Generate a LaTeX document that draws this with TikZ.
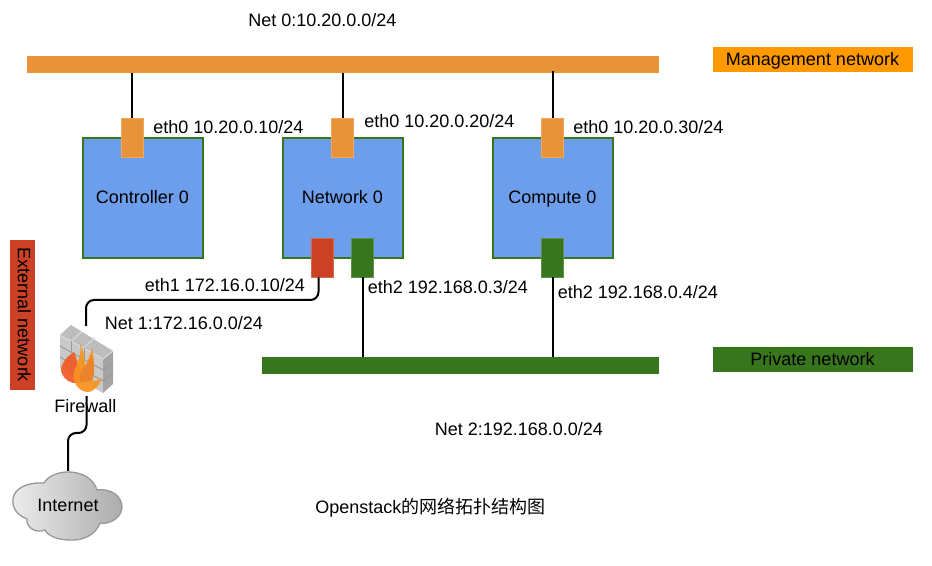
\documentclass[tikz,border=0pt]{standalone}
\usepackage{fontspec}
\setmainfont{Liberation Sans}
\newfontfamily\cjk{Noto Sans CJK SC}
\definecolor{orangeb}{HTML}{E8923A}
\definecolor{orangel}{HTML}{FF9900}
\definecolor{greenb}{HTML}{38761D}
\definecolor{redb}{HTML}{CC4125}
\definecolor{blueb}{HTML}{6D9EEB}
\definecolor{brickf}{HTML}{C9C9C9}
\definecolor{bricks}{HTML}{A3A3A3}
\definecolor{brickt}{HTML}{BDBDBD}
\definecolor{mortar}{HTML}{9A9A9A}
\definecolor{mortarl}{HTML}{DEDEDE}
\tikzset{
 lbl/.style={font=\fontsize{13.5}{16}\selectfont,inner sep=0pt,text height=11.5pt,text depth=2.5pt},
 hostbox/.style={draw=greenb,line width=1.5pt,fill=blueb,minimum width=120*0.75pt,minimum height=120*0.75pt,inner sep=0pt,lbl},
 port/.style={draw=#1!80!white,line width=0.5pt,fill=#1,minimum width=21.5*0.75pt,minimum height=39*0.75pt,inner sep=0pt},
 bar/.style={fill=#1,inner sep=0pt},
 wire/.style={draw=black,line width=1.5pt,rounded corners=6pt}
}
\begin{document}
\begin{tikzpicture}[x=0.75pt,y=-0.75pt]
\useasboundingbox (0,0) rectangle (932,566);
\fill[white] (0,0) rectangle (932,566);
% bars
\node[bar=orangeb,minimum width=632*0.75pt,minimum height=17*0.75pt] (mgmt) at (342.5,65) {};
\node[bar=greenb,minimum width=397*0.75pt,minimum height=17*0.75pt] (priv) at (460,365.5) {};
\coordinate (mgmtA) at (132,73);
\coordinate (mgmtB) at (342.5,73);
\coordinate (mgmtC) at (552.5,71);
\coordinate (privA) at (362.5,357);
\coordinate (privB) at (552.5,357);
% hosts
\node[hostbox] (ctrl) at (142.5,198) {Controller 0};
\node[hostbox] (net) at (342.5,198) {Network 0};
\node[hostbox] (comp) at (552.5,198) {Compute 0};
% ports
\node[port=orangeb] (p1) at (132.5,138) {};
\node[port=orangeb] (p2) at (342.5,138) {};
\node[port=orangeb] (p3) at (552.5,138) {};
\node[port=redb] (r1) at (322.5,257.5) {};
\node[port=greenb] (g1) at (362.5,257.5) {};
\node[port=greenb] (g2) at (552.5,257.5) {};
% wires
\draw[wire] (mgmtA) -- (p1.north -| mgmtA);
\draw[wire] (mgmtB) -- (p2.north);
\draw[wire] (mgmtC) -- (p3.north);
\draw[wire] (g1.south) -- (privA);
\draw[wire] (g2.south) -- (privB);
% legends
\node[bar=orangel,minimum width=200*0.75pt,minimum height=25*0.75pt,lbl] (lm) at (812.5,59.5) {Management network};
\node[bar=greenb,minimum width=200*0.75pt,minimum height=25*0.75pt,lbl] (lp) at (812.5,360) {Private network};
\node[bar=redb,minimum width=150*0.75pt,minimum height=25*0.75pt,lbl,text height=9.7pt,text depth=2.9pt,rotate=-90] (le) at (22.5,315) {External network};
% firewall wall
\fill[brickf] (60,335) -- (103,359) -- (103,393) -- (60,368) -- cycle;
\fill[bricks] (103,359) -- (113,351) -- (113,384) -- (103,393) -- cycle;
\fill[brickt] (60,335) -- (71,325) -- (113,351) -- (103,359) -- cycle;
\draw[mortar,line width=0.7pt] (60,346) -- (103,370) (60,357) -- (103,381);
\draw[mortar,line width=0.7pt] (103,370) -- (113,362) (103,381) -- (113,373);
\draw[mortarl,line width=0.7pt] (60,335) -- (103,359) (103,359) -- (113,351);
\draw[mortarl,line width=0.7pt] (71,341.5) -- (82,331.5) (84,347.5) -- (95,337.5);
\draw[mortar,line width=0.7pt] (71,341.5) -- (71,352.5) (84,348.5) -- (84,359.5) (82,358) -- (82,369) (71,363.5) -- (71,374.5) (92,364.5) -- (92,375.5);
% flames
\fill[fill={rgb,255:red,241;green,90;blue,36},opacity=.92] (74,352) .. controls (64,358) and (59,368) .. (62,374) .. controls (65,380) and (71,384) .. (78,383) .. controls (82,378) and (78,362) .. (74,352) -- cycle;
\fill[fill={rgb,255:red,247;green,147;blue,30},opacity=.92] (79,342) .. controls (84,352) and (76,364) .. (74,372) .. controls (72,382) and (78,391) .. (87,392) .. controls (95,392) and (99,385) .. (102,378) .. controls (98,381) and (95,381) .. (92,381) .. controls (95,370) and (94,358) .. (92,348) .. controls (90,356) and (87,362) .. (85,366) .. controls (85,358) and (83,348) .. (79,342) -- cycle;
\fill[fill={rgb,255:red,232;green,125;blue,45},opacity=.75] (85,366) .. controls (80,372) and (78,378) .. (80,383) .. controls (84,381) and (90,381) .. (93,380) .. controls (95,372) and (94,362) .. (92,356) .. controls (90,360) and (87,364) .. (85,366) -- cycle;
\node[lbl] (fwl) at (85.5,407) {Firewall};
% cloud
\draw[draw=gray!80,line width=1pt,left color=gray!15,right color=gray!65]
 (68,472) .. controls (84,472) and (94,480) .. (97,490)
 .. controls (112,488) and (122,497) .. (122,507)
 .. controls (122,517) and (110,525) .. (100,523)
 .. controls (96,535) and (82,541) .. (70,540)
 .. controls (58,540) and (48,536) .. (45,530)
 .. controls (34,534) and (26,526) .. (27,519)
 .. controls (17,515) and (12,508) .. (13,499)
 .. controls (14,489) and (26,482) .. (44,483)
 .. controls (48,476) and (58,472) .. (68,472) -- cycle;
\node[lbl] (inet) at (68,505) {Internet};
\coordinate (inetTop) at (68,471);
\coordinate (fwBot) at (86.5,396);
\coordinate (fwTop) at (86,326);
\coordinate (r1out) at ([xshift=-3pt]r1.south);
\draw[wire] (r1out) -- (r1out |- 0,300) -- (86,300) -- (fwTop);
\draw[wire] (fwBot) -- (86.5,433) -- (68,433) -- (inetTop);
% labels
\node[lbl,anchor=west] (a) at (248,21) {Net 0:10.20.0.0/24};
\node[lbl,anchor=west] (e1) at (153,128) {eth0 10.20.0.10/24};
\node[lbl,anchor=west] (e2) at (364,122) {eth0 10.20.0.20/24};
\node[lbl,anchor=west] (e3) at (573,128) {eth0 10.20.0.30/24};
\node[lbl,anchor=west] (e4) at (144.5,286) {eth1 172.16.0.10/24};
\node[lbl,anchor=west] (e5) at (367.5,288) {eth2 192.168.0.3/24};
\node[lbl,anchor=west] (e6) at (557.5,293) {eth2 192.168.0.4/24};
\node[lbl,anchor=west] (n1) at (104.5,324) {Net 1:172.16.0.0/24};
\node[lbl,anchor=west] (n2) at (434.5,430) {Net 2:192.168.0.0/24};
\node[lbl,anchor=west] (t) at (315,507) {Openstack{\cjk 的网络拓扑结构图}};
\end{tikzpicture}
\end{document}
